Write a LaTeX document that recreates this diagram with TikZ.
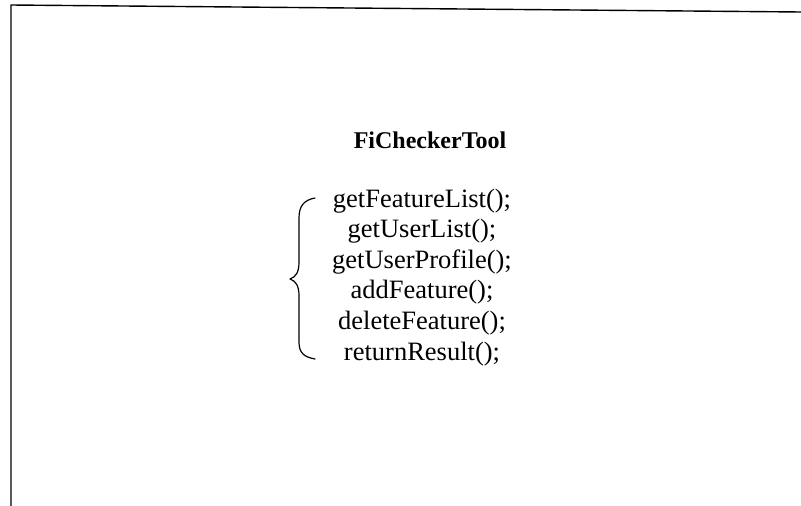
\documentclass[tikz,border=0pt]{standalone}
\usepackage{fontspec}
\setmainfont{Liberation Serif}
\usepackage{tikz}

\begin{document}
\begin{tikzpicture}[x=1pt, y=-1pt, line cap=round, line join=round]
    \useasboundingbox (0,0) rectangle (801,506);

    \tikzset{method/.style={anchor=base, inner sep=0pt, font=\fontsize{26.5}{30}\selectfont}}
    \tikzset{frame/.style={line width=1.4pt}}

    % frame edges (top and left only)
    \coordinate (TL) at (11,5);
    \coordinate (TR) at (801,12);
    \coordinate (BL) at (11,506);
    \draw[frame] (BL) -- (TL) -- (TR);

    % class name
    \node[anchor=base, inner sep=0pt, font=\bfseries\fontsize{24}{28}\selectfont] (title) at (430,148) {FiCheckerTool};

    % methods
    \node[method] (m1) at (422,207)   {getFeatureList();};
    \node[method] (m2) at (422,237.6) {getUserList();};
    \node[method] (m3) at (422,268.2) {getUserProfile();};
    \node[method] (m4) at (422,298.8) {addFeature();};
    \node[method] (m5) at (422,329.4) {deleteFeature();};
    \node[method] (m6) at (422,360)   {returnResult();};

    % brace
    \draw[line width=1.2pt] (315,198) .. controls (304,200) and (299,206) .. (299,218)
        -- (299,262) .. controls (299,272) and (296,277) .. (290,279)
        .. controls (296,281) and (299,286) .. (299,296)
        -- (299,342) .. controls (299,353) and (304,357) .. (315,359);
\end{tikzpicture}
\end{document}
